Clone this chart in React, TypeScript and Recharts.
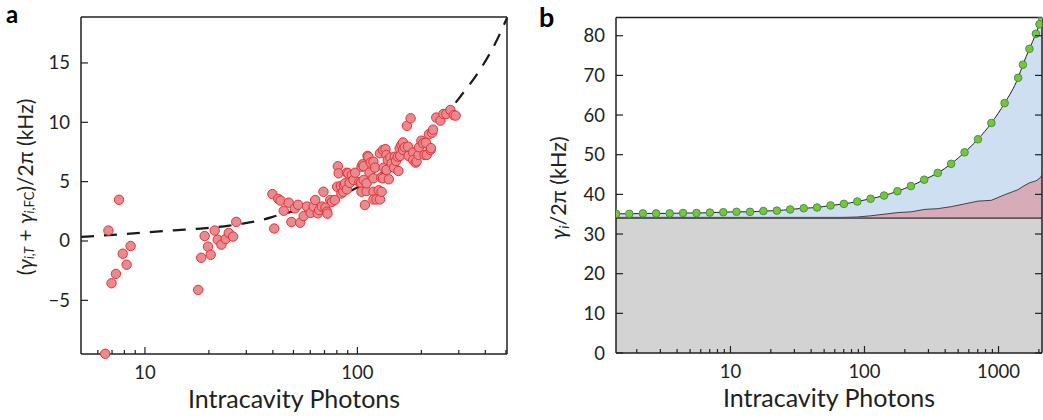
import { ComposedChart, Scatter, Line, Area, XAxis, YAxis, Label } from "recharts";

// panel a: measured points (photons, kHz)
const photonsA = [
  6.5, 6.73, 6.96, 7.3, 7.55, 7.86, 8.2, 8.56,
  17.8, 18.4, 19.1, 19.8, 20.4, 21.3, 22.0, 22.9, 24.0, 24.8, 26.0, 26.9,
  39.8, 40.6, 42.4, 43.5, 45.0, 47.5, 48.9, 50.8, 52.6, 53.8, 55.9, 57.9, 60.2, 62.2, 63.3, 65.1, 66.1, 68.0,
  69.2, 70.7, 71.9, 72.3, 74.5, 76, 78.3, 80.3, 80.9, 81.6, 83.6, 84.0, 85.8, 86.4, 87.4, 89.2, 89.2, 90.6,
  92, 94.3, 95.8, 97.6,
  102, 104, 104.5, 104.6, 106, 107, 107, 108.5, 110.4, 110.5, 111.6, 112.6, 114, 115.4, 119, 119, 119, 119,
  121, 123, 126, 127.7, 127.7, 129.5, 130, 132, 132, 133, 135.6, 137, 137, 139, 140.6, 143, 145, 148.8, 150,
  152, 155, 156, 158, 159,
  161, 164, 164, 167, 171, 173, 174, 178, 183, 183, 188, 190, 194, 195, 200, 204, 207, 210, 212, 217, 221,
  222, 225, 227, 235, 246, 254, 262, 274, 284, 290,
];
const kHzA = [
  -9.5, 0.88, -3.56, -2.77, 3.47, -1.07, -2.0, -0.42,
  -4.12, -1.41, 0.42, -0.48, -1.16, 0.88, 0.11, -0.31, 0.17, 0.68, 0.37, 1.61,
  3.95, 1.05, 3.55, 3.4, 2.55, 3.23, 1.6, 2.75, 3.05, 1.54, 2.1, 2.9, 2.37, 2.9, 3.45, 2.33, 2.6, 2.9,
  4.15, 2.8, 2.47, 2.3, 3.45, 3.3, 3.45, 4.57, 6.3, 5.7, 4.63, 4.0, 4.15, 4.7, 4.86, 4.35, 5.75, 5.7,
  4.9, 5.56, 5.14, 5.75,
  4.97, 4.9, 4.15, 6.26, 6.47, 5.14, 6.3, 3.03, 4.2, 4.86, 7.17, 7.1, 5.76, 6.6, 5.28, 6.68, 4.15, 3.5,
  6.18, 3.5, 4.27, 7.39, 3.5, 5.34, 4.15, 7.67, 5.28, 6.18, 7.74, 5.98, 7.25, 6.82, 5.2, 7.03, 6.54, 6.18, 7.1,
  6.75, 7.1, 5.9, 7.8, 7.17,
  8.09, 8.3, 7.67, 7.9, 9.7, 7.95, 7.17, 10.34, 7.45, 6.82, 6.6, 6.7, 7.25, 7.9, 8.45, 8.23, 7.25, 8.28, 7.25, 9.0, 7.67,
  7.82, 9.12, 9.38, 10.4, 10.14, 10.7, 10.7, 11.04, 10.6, 10.56,
];

// panel a: dashed fit
const fitPhotons = [5, 8.2, 13.7, 18.3, 25, 36, 42, 60, 80, 100, 150, 200, 250, 300, 380, 450, 506];
const fitKHz = [0.34, 0.6, 0.9, 1.05, 1.3, 1.8, 2.15, 2.9, 3.7, 4.5, 6.5, 8.3, 10.2, 12.0, 14.5, 16.8, 18.8];

// panel b: total, thermal contribution, intrinsic level
const photonsB = [
  1.4, 1.76, 2.22, 2.79, 3.52, 4.43, 5.58, 7.02, 8.84, 11.1, 14.0, 17.6, 22.2, 27.9, 35.2, 44.3, 55.8, 70.2,
  88.4, 111, 140, 176, 222, 279, 352, 443, 558, 702, 884, 1110, 1400, 1520, 1700, 1900, 2020, 2108,
];
const totalB = [
  35.1, 35.1, 35.2, 35.2, 35.2, 35.3, 35.3, 35.4, 35.5, 35.6, 35.6, 35.8, 35.9, 36.2, 36.5, 36.7, 37.2, 37.6,
  38.2, 38.9, 39.7, 40.8, 42.1, 43.7, 45.4, 47.7, 50.6, 53.9, 58.0, 63.0, 69.4, 72.7, 76.7, 80.5, 82.9, 84.6,
];
const thermalB = [
  34.2, 34.2, 34.2, 34.2, 34.2, 34.2, 34.2, 34.2, 34.2, 34.2, 34.2, 34.2, 34.2, 34.2, 34.2, 34.2, 34.2, 34.2,
  34.3, 34.6, 35.0, 35.4, 35.6, 36.2, 36.4, 36.9, 37.6, 38.3, 38.5, 39.9, 41.2, 42.0, 42.9, 43.4, 44.0, 44.8,
];
const intrinsicB = 34;

const ticksA = [6, 7, 8, 9, 10, 20, 30, 40, 50, 60, 70, 80, 90, 100, 200, 300, 400, 500];
const ticksB = [2, 3, 4, 5, 6, 7, 8, 9, 10, 20, 30, 40, 50, 60, 70, 80, 90, 100, 200, 300, 400, 500, 600, 700, 800, 900, 1000, 2000];
const majorsX = [10, 100, 1000];
const yTicksA = [-5, 0, 5, 10, 15];
const yTicksB = [0, 10, 20, 30, 40, 50, 60, 70, 80];

const FONT = "Lato, 'DejaVu Sans', sans-serif";
const INK = "#231f20";

const scatterA = photonsA.map((n, i) => ({ n, k: kHzA[i] }));
const fitA = fitPhotons.map((n, i) => ({ n, k: fitKHz[i] }));
const rowsB = photonsB.map((n, i) => ({ n, total: totalB[i], thermal: thermalB[i], base: intrinsicB }));

const minus = (v: number) => String(v).replace("-", "\u2212");

function xTick(side: "bottom" | "top") {
  return (p: any) => {
    const major = majorsX.includes(p.payload.value);
    const len = major ? 7 : 4;
    const dir = side === "bottom" ? -1 : 1;
    return (
      <g>
        <line x1={p.x} y1={p.y} x2={p.x} y2={p.y + dir * len} stroke={INK} strokeWidth={1.2} />
        {side === "bottom" && major && (
          <text x={p.x} y={p.y + 25} textAnchor="middle" fontSize={18.5} fill={INK} fontFamily={FONT}>
            {p.payload.value}
          </text>
        )}
      </g>
    );
  };
}

function yTick(side: "left" | "right") {
  return (p: any) => {
    const dir = side === "left" ? 1 : -1;
    return (
      <g>
        <line x1={p.x} y1={p.y} x2={p.x + dir * 7} y2={p.y} stroke={INK} strokeWidth={1.2} />
        {side === "left" && (
          <text x={p.x - 11} y={p.y + 6.5} textAnchor="end" fontSize={18.5} fill={INK} fontFamily={FONT}>
            {minus(p.payload.value)}
          </text>
        )}
      </g>
    );
  };
}

const xLabel = (p: any) => {
  const vb = p.viewBox;
  return (
    <text x={vb.x + vb.width / 2} y={vb.y + 54} textAnchor="middle" fontSize={25} fill={INK} fontFamily={FONT}>
      Intracavity Photons
    </text>
  );
};

const yLabelA = () => (
  <text
    x={24}
    y={187}
    transform="rotate(-90, 24, 187)"
    textAnchor="middle"
    dominantBaseline="central"
    fontSize={21}
    fill={INK}
    fontFamily={FONT}
  >
    (<tspan fontStyle="italic">γ</tspan>
    <tspan fontSize={13} dy={5} fontStyle="italic">i,T</tspan>
    <tspan dy={-5}> + </tspan>
    <tspan fontStyle="italic">γ</tspan>
    <tspan fontSize={13} dy={5}><tspan fontStyle="italic">i</tspan>,FC</tspan>
    <tspan dy={-5}>)/2π (kHz)</tspan>
  </text>
);

const yLabelB = () => (
  <text
    x={38}
    y={188}
    transform="rotate(-90, 38, 188)"
    textAnchor="middle"
    dominantBaseline="central"
    fontSize={21.5}
    fill={INK}
    fontFamily={FONT}
  >
    <tspan fontStyle="italic">γ</tspan>
    <tspan fontSize={14} dy={5} fontStyle="italic">i</tspan>
    <tspan dy={-5}>/2π (kHz)</tspan>
  </text>
);

const axisLine = { stroke: INK, strokeWidth: 1.5 };

function PanelA() {
  return (
    <ComposedChart width={520} height={420} margin={{ top: 16, right: 12, bottom: 0, left: 0 }}>
      <XAxis
        xAxisId="b" type="number" scale="log" dataKey="n" domain={[5, 506]}
        ticks={ticksA} interval={0} tickSize={0} tickMargin={0} height={66}
        axisLine={axisLine} tickLine={false} tick={xTick("bottom")}
      >
        <Label content={xLabel} />
      </XAxis>
      <XAxis
        xAxisId="t" orientation="top" type="number" scale="log" domain={[5, 506]}
        ticks={ticksA} interval={0} tickSize={0} tickMargin={0} height={1}
        axisLine={axisLine} tickLine={false} tick={xTick("top")}
      />
      <YAxis
        yAxisId="l" type="number" domain={[-9.52, 18.87]} ticks={yTicksA} interval={0}
        tickSize={0} tickMargin={0} width={81} axisLine={axisLine} tickLine={false} tick={yTick("left")}
      >
        <Label content={yLabelA} />
      </YAxis>
      <YAxis
        yAxisId="r" orientation="right" type="number" domain={[-9.52, 18.87]} ticks={yTicksA}
        interval={0} tickSize={0} tickMargin={0} width={1} axisLine={axisLine} tickLine={false} tick={yTick("right")}
      />
      <Line
        xAxisId="b" yAxisId="l" data={fitA} dataKey="k" type="monotone" stroke="#1a1a1a" strokeWidth={2.2}
        strokeDasharray="13 10" dot={false} isAnimationActive={false}
      />
      <Scatter
        xAxisId="b" yAxisId="l" data={scatterA} dataKey="k" isAnimationActive={false}
        shape={(p: any) => <circle cx={p.cx} cy={p.cy} r={4.7} fill="#e48c90" stroke="#ed2e35" strokeWidth={1} />}
      />
    </ComposedChart>
  );
}

function PanelB() {
  return (
    <ComposedChart width={523} height={420} data={rowsB} margin={{ top: 16.5, right: 0, bottom: 0, left: 0 }}>
      <XAxis
        xAxisId="b" type="number" scale="log" dataKey="n" domain={[1.4, 2110]} allowDataOverflow
        ticks={ticksB} interval={0} tickSize={0} tickMargin={0} height={67}
        axisLine={axisLine} tickLine={false} tick={xTick("bottom")}
      >
        <Label content={xLabel} />
      </XAxis>
      <XAxis
        xAxisId="t" orientation="top" type="number" scale="log" domain={[1.4, 2110]} allowDataOverflow
        ticks={ticksB} interval={0} tickSize={0} tickMargin={0} height={1}
        axisLine={axisLine} tickLine={false} tick={xTick("top")}
      />
      <YAxis
        yAxisId="l" type="number" domain={[0, 84.6]} allowDataOverflow ticks={yTicksB} interval={0}
        tickSize={0} tickMargin={0} width={96} axisLine={axisLine} tickLine={false} tick={yTick("left")}
      >
        <Label content={yLabelB} />
      </YAxis>
      <YAxis
        yAxisId="r" orientation="right" type="number" domain={[0, 84.6]} allowDataOverflow ticks={yTicksB}
        interval={0} tickSize={0} tickMargin={0} width={1} axisLine={axisLine} tickLine={false} tick={yTick("right")}
      />
      <Area
        xAxisId="b" yAxisId="l" dataKey="total" type="monotone" fill="#cddff0" fillOpacity={1} stroke="none"
        isAnimationActive={false}
      />
      <Area
        xAxisId="b" yAxisId="l" dataKey="thermal" type="linear" fill="#d8abb9" fillOpacity={1} stroke="#231f20"
        strokeWidth={0.8} isAnimationActive={false}
      />
      <Area
        xAxisId="b" yAxisId="l" dataKey="base" type="linear" fill="#d3d3d3" fillOpacity={1} stroke="#5a5a5a"
        strokeWidth={1.6} isAnimationActive={false}
      />
      <Line
        xAxisId="b" yAxisId="l" dataKey="total" type="monotone" stroke="#231f20" strokeWidth={1}
        dot={{ r: 3.8, fill: "#7dc143", stroke: "#3c9a3c", strokeWidth: 1 }} isAnimationActive={false}
      />
    </ComposedChart>
  );
}

export default function App() {
  return (
    <div style={{ position: "absolute", left: 0, top: 0, width: 1043, height: 420, background: "#fff" }}>
      <div style={{ position: "absolute", left: 0, top: 0 }}>
        <PanelA />
      </div>
      <div style={{ position: "absolute", left: 520, top: 0 }}>
        <PanelB />
      </div>
      <svg width={1043} height={420} style={{ position: "absolute", left: 0, top: 0, pointerEvents: "none" }}>
        <text x={6} y={23} fontSize={24} fontWeight="bold" fill="#000" fontFamily={FONT}>a</text>
        <text x={539} y={27} fontSize={27} fontWeight="bold" fill="#000" fontFamily={FONT}>b</text>
      </svg>
    </div>
  );
}
